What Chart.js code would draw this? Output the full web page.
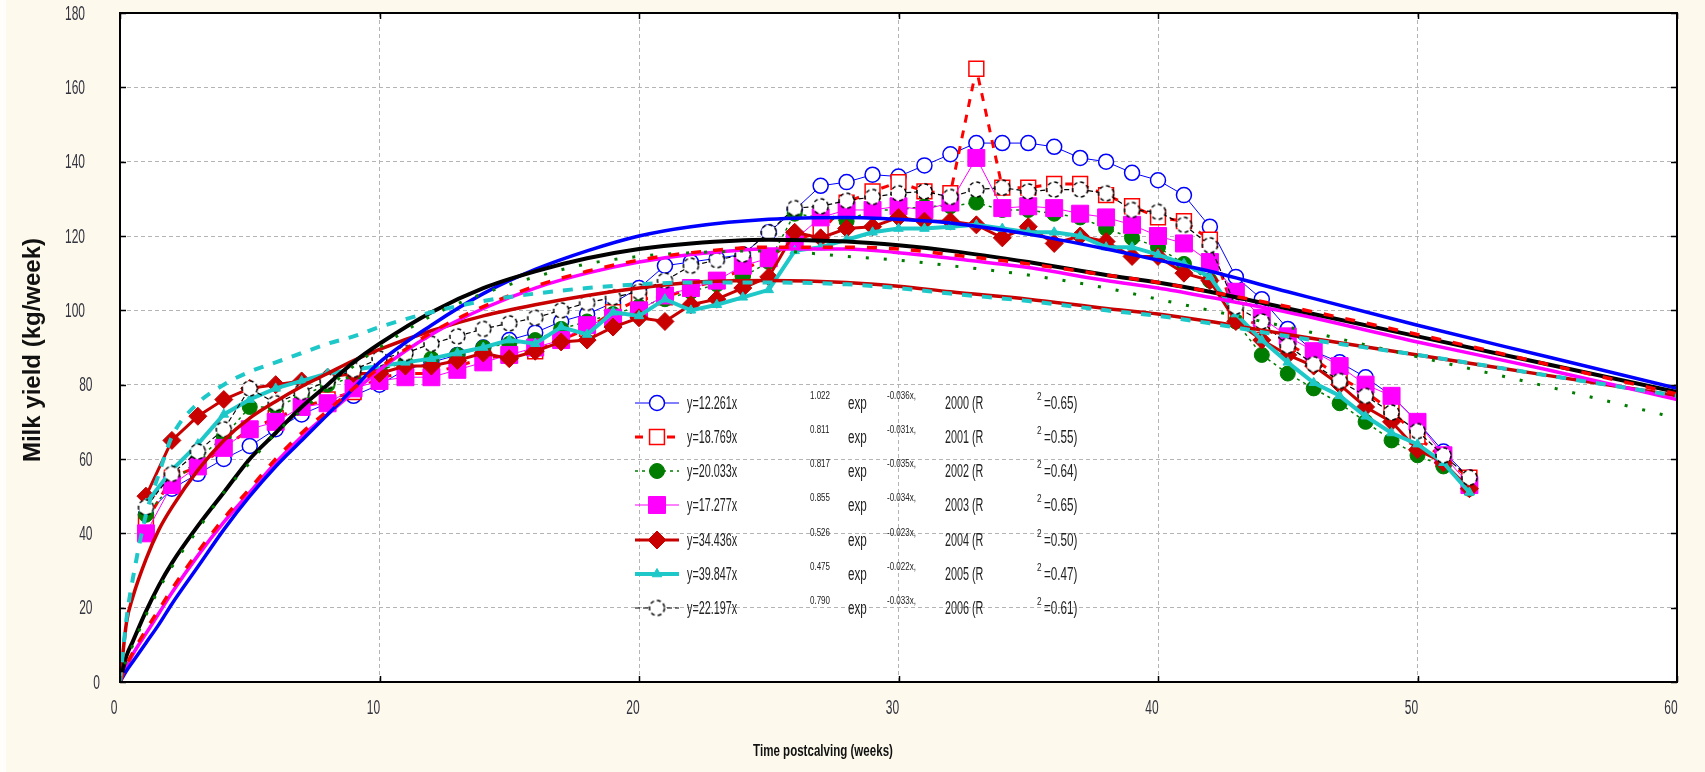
<!DOCTYPE html>
<html>
<head>
<meta charset="utf-8">
<title>Milk yield lactation curves 2000-2006</title>
<script src="https://cdn.jsdelivr.net/npm/chart.js@4.4.1/dist/chart.umd.min.js"></script>
<style>
  html, body { margin: 0; padding: 0; background: #fdf9ec; }
  canvas { display: block; }
</style>
</head>
<body>
<canvas id="milk" width="1705" height="772"></canvas>
<script>
// axis ticks
const xTicks = [0, 10, 20, 30, 40, 50, 60];
const yTicks = [0, 20, 40, 60, 80, 100, 120, 140, 160, 180];

// observed weekly means (weeks 1..52)
const weeks = [1, 2, 3, 4, 5, 6, 7, 8, 9, 10, 11, 12, 13, 14, 15, 16, 17, 18, 19, 20,
  21, 22, 23, 24, 25, 26, 27, 28, 29, 30, 31, 32, 33, 34, 35, 36, 37, 38, 39, 40,
  41, 42, 43, 44, 45, 46, 47, 48, 49, 50, 51, 52];

const obs2000 = [45, 52, 56, 60, 63.5, 68, 72, 75, 77, 80, 84, 86, 88, 90, 92, 94, 97, 99, 102, 106,
  112, 113, 114, 115, 121, 127, 133.5, 134.5, 136.5, 136, 139, 142, 145, 145, 145, 144, 141, 140, 137, 135,
  131, 122.5, 109, 103, 95, 89, 86, 82, 77, 70, 62, 55];
const obs2001 = [43, 55, 58, 63, 68, 71, 74, 76, 78, 82, 83, 83, 85, 87, 88, 89, 92, 95, 99.5, 103,
  103.5, 106, 108, 111, 114, 119, 121, 129, 132, 134.5, 132, 131.5, 165, 133, 133, 134, 134, 131, 128, 125,
  124, 119, 98, 96, 91, 87, 82, 78, 73, 66, 60, 55];
const obs2002 = [45, 53, 60, 66, 74, 74, 77, 80, 82, 84, 86, 87, 88, 90, 91, 92, 95, 97, 99, 101,
  103, 105, 107, 109, 113, 126, 125, 124, 127, 127, 128, 128, 129, 127, 127, 126, 125, 122, 119.5, 117,
  112.5, 108, 97, 88, 83, 79, 75, 70, 65, 61, 58, 52];
const obs2003 = [40, 53, 58, 63, 68, 70, 74, 75, 79, 81, 82, 82, 84, 86, 88, 90, 92, 96, 98, 100,
  104, 106, 108, 112, 114, 119, 125, 127, 127, 128, 127, 129, 141, 127.5, 128, 127.5, 126, 125, 123, 120,
  118, 113, 105, 98, 93, 89, 85, 80, 77, 70, 61, 53];
const obs2004 = [50, 65, 71.5, 76, 79, 80, 81, 82, 83, 83, 85, 85, 86.5, 88.5, 87, 89, 91.5, 92, 95.5, 98,
  97, 101.5, 103, 106, 109, 121, 119.5, 122, 122.5, 125, 124, 124, 123, 119.5, 122.5, 118, 120, 118.5, 114.5, 114.5,
  110, 108, 97, 92, 88, 85, 80, 74, 70, 62.5, 59, 52];
const obs2005 = [48, 57, 64, 72, 76, 79, 81, 83, 84, 85, 86, 87, 88.5, 90, 92, 91, 95.5, 93.5, 99.5, 98.5,
  103, 100, 101.5, 103.5, 105.5, 116, 117, 119, 121, 122, 122, 122.5, 123, 122, 121, 121, 120, 117, 117, 115,
  112.5, 109, 99, 92, 86, 80.5, 77, 71.5, 67, 64, 59, 51];
const obs2006 = [47, 56, 62, 68, 79, 75, 78, 81, 84, 87, 88.5, 91, 93, 95, 96.5, 98, 100, 102, 103.5, 105,
  108, 112, 113.5, 115, 121, 127.5, 128, 129.5, 130.5, 131.5, 132, 130.5, 132.5, 133, 132, 132.5, 132.5, 131.5, 127, 126.5,
  123, 117.5, 101, 97, 90.5, 85.5, 81, 77, 72.5, 67.5, 61, 55];

// fitted curves
const fitWeeks = [0, 0.25, 0.5, 1, 1.5, 2, 3, 4, 5, 6, 7, 8, 9, 10, 12, 14, 16, 18, 20, 22,
  25, 28, 30, 32, 35, 38, 40, 42, 45, 50, 55, 60];
const fit2000 = [0, 3, 5.5, 10.5, 15.5, 21, 31, 41, 50, 58, 65, 72, 79, 86, 96, 104.5, 111, 116, 120, 122.5,
  124.5, 125, 124.5, 123.5, 120.5, 116.5, 113.5, 110.5, 105, 96, 87.5, 79];
const fit2001 = [0, 4.5, 8, 14, 19.5, 25, 35, 44, 52, 60, 67, 73, 79, 84.5, 94, 101, 106.5, 110.5, 113.5, 115.5,
  117, 117, 116.5, 115, 112.5, 109.5, 107.5, 105, 101, 93.5, 85.5, 77.5];
const fit2002 = [0, 6, 10, 18, 25, 31, 41, 51, 59, 67, 73, 79, 85, 90, 98.5, 104.5, 109, 112.5, 114.5, 115.5,
  116, 114.5, 113.5, 112, 109.5, 106, 103, 100, 95.5, 87.5, 79.5, 71];
const fit2003 = [0, 4, 7.5, 13, 18.5, 24, 34, 43, 51, 59, 66, 72, 78, 84, 93.5, 100.5, 106, 110, 113, 115,
  116.5, 116.5, 115.5, 114, 111.5, 108, 106, 103.5, 99.5, 91.5, 84, 76];
const fit2004 = [0, 16, 23, 33, 41, 47, 57, 65, 71, 75.5, 79.5, 83, 86.5, 89.5, 94.5, 98.5, 101.5, 104, 106, 107.5,
  108, 107.5, 106.5, 105, 103, 100.5, 99, 97, 93.5, 88, 82.5, 77];
const fit2005 = [0, 17, 28, 45, 56, 66, 75, 80, 83.5, 86, 88.5, 91, 93, 95.5, 99.5, 102.5, 104.5, 106, 107, 107.5,
  107.5, 107, 106, 104.5, 102.5, 100, 98.5, 96.5, 93, 88, 82.5, 77];
const fit2006 = [0, 7, 11, 19, 26, 32, 42, 51, 60, 67, 74, 80, 86, 91, 99.5, 106, 110.5, 114, 116.5, 118,
  119, 118.5, 117.5, 116, 113, 109.5, 107.5, 105, 100.5, 93, 85.5, 78];

// legend texts
const years = ['2000', '2001', '2002', '2003', '2004', '2005', '2006'];
const eqA = ['y=12.261x', 'y=18.769x', 'y=20.033x', 'y=17.277x', 'y=34.436x', 'y=39.847x', 'y=22.197x'];
const eqB = ['1.022', '0.811', '0.817', '0.855', '0.526', '0.475', '0.790'];
const eqC = ['-0.036x,', '-0.031x,', '-0.035x,', '-0.034x,', '-0.023x,', '-0.022x,', '-0.033x,'];
const rSq = ['=0.65)', '=0.55)', '=0.64)', '=0.65)', '=0.50)', '=0.47)', '=0.61)'];

const BG = '#fdf9ec';
const FONT = "'Liberation Sans', Arial, sans-serif";

function pts(xs, ys) {
  return ys.map((v, i) => ({ x: xs[i], y: v }));
}

// open circle with a dashed outline (2006 marker)
function ringMarker() {
  const c = document.createElement('canvas');
  c.width = 19; c.height = 19;
  const g = c.getContext('2d');
  g.beginPath();
  g.arc(9.5, 9.5, 7.5, 0, Math.PI * 2);
  g.fillStyle = '#fff';
  g.fill();
  g.setLineDash([4, 3]);
  g.lineWidth = 1.5;
  g.strokeStyle = '#000';
  g.stroke();
  return c;
}
const ring = ringMarker();

function obsLine(label, data, color, width, dash, style, radius, fillCol, pbw) {
  return {
    label, data: pts(weeks, data), borderColor: color, borderWidth: width, borderDash: dash,
    pointStyle: style, pointRadius: radius, pointBackgroundColor: fillCol,
    pointBorderColor: color, pointBorderWidth: pbw, tension: 0, fill: false
  };
}
function fitLine(label, data, color, width, dash) {
  return {
    label, data: pts(fitWeeks, data), borderColor: color, borderWidth: width, borderDash: dash,
    pointRadius: 0, cubicInterpolationMode: 'monotone', fill: false
  };
}

// first index is drawn on top
const obsSets = [
  obsLine('2006', obs2006, '#000000', 1.2, [5, 3], ring, 9, '#fff', 0),
  obsLine('2005', obs2005, '#1ec8c8', 4, [], 'triangle', 5.5, '#1ec8c8', 1),
  obsLine('2004', obs2004, '#c80000', 3, [], 'rectRot', 9, '#c80000', 1),
  obsLine('2003', obs2003, '#ff00ff', 1, [], 'rect', 12, '#ff00ff', 1),
  obsLine('2002', obs2002, '#007d00', 1.5, [3, 4], 'circle', 7.5, '#007d00', 1),
  obsLine('2001', obs2001, '#ff0000', 3, [8, 8], 'rect', 10.5, '#fff', 1.5),
  obsLine('2000', obs2000, '#0000ff', 1, [], 'circle', 7.5, '#fff', 1.5)
];
const fitSets = [
  fitLine('fit 2005', fit2005, '#1ec8c8', 4, [10, 10]),
  fitLine('fit 2001', fit2001, '#ff0000', 3.5, [10, 12]),
  fitLine('fit 2002', fit2002, '#007d00', 3, [3, 15]),
  fitLine('fit 2006', fit2006, '#000000', 4, []),
  fitLine('fit 2000', fit2000, '#0000ff', 3.5, []),
  fitLine('fit 2003', fit2003, '#ff00ff', 3.5, []),
  fitLine('fit 2004', fit2004, '#c80000', 3.5, [])
];

function squeezeText(ctx, txt, x, y, font, sx, align, color) {
  ctx.save();
  ctx.font = font;
  ctx.fillStyle = color;
  ctx.textBaseline = 'middle';
  ctx.textAlign = align;
  ctx.translate(x, y);
  ctx.scale(sx, 1);
  ctx.fillText(txt, 0, 0);
  ctx.restore();
}

const frame = {
  id: 'frame',
  beforeDraw(chart) {
    const { ctx, chartArea: a } = chart;
    ctx.save();
    ctx.fillStyle = BG;
    ctx.fillRect(0, 0, chart.width, chart.height);
    ctx.fillStyle = '#fffefa';
    ctx.fillRect(0, 0, 6, chart.height);
    ctx.fillStyle = '#ffffff';
    ctx.fillRect(a.left, a.top, a.right - a.left, a.bottom - a.top);
    ctx.restore();
  },
  afterDraw(chart) {
    const { ctx, chartArea: a } = chart;
    const xs = chart.scales.x, ys = chart.scales.y;

    // plot frame and inward ticks
    ctx.save();
    ctx.strokeStyle = '#000';
    ctx.lineWidth = 2;
    ctx.strokeRect(a.left, a.top, a.right - a.left, a.bottom - a.top);
    ctx.lineWidth = 1.5;
    ctx.beginPath();
    yTicks.forEach(v => {
      const py = Math.round(ys.getPixelForValue(v)) + 0.5;
      ctx.moveTo(a.left, py); ctx.lineTo(a.left + 6, py);
      ctx.moveTo(a.right, py); ctx.lineTo(a.right - 6, py);
    });
    xTicks.forEach(v => {
      const px = Math.round(xs.getPixelForValue(v)) + 0.5;
      ctx.moveTo(px, a.bottom); ctx.lineTo(px, a.bottom - 6);
      ctx.moveTo(px, a.top); ctx.lineTo(px, a.top + 6);
    });
    ctx.stroke();
    ctx.restore();

    // tick labels
    const tickCol = '#33343f';
    yTicks.forEach(v => {
      const s = String(v);
      squeezeText(ctx, s, 107.5 - 7.5 * s.length, ys.getPixelForValue(v) + 1, '20px ' + FONT, 0.6, 'right', tickCol);
    });
    xTicks.forEach(v => {
      squeezeText(ctx, String(v), xs.getPixelForValue(v) - 6, 708, '20px ' + FONT, 0.6, 'center', tickCol);
    });

    // axis titles
    squeezeText(ctx, 'Time postcalving (weeks)', 823, 751, 'bold 17px ' + FONT, 0.68, 'center', '#111');
    ctx.save();
    ctx.translate(33, 350);
    ctx.rotate(-Math.PI / 2);
    ctx.font = 'bold 24px ' + FONT;
    ctx.fillStyle = '#111';
    ctx.textAlign = 'center';
    ctx.textBaseline = 'middle';
    ctx.fillText('Milk yield (kg/week)', 0, 0);
    ctx.restore();

    // legend block
    const rowY = [403, 437, 471, 505, 540, 574, 608];
    const txt = '#222';
    years.forEach((yr, i) => {
      const y = rowY[i];
      const ds = obsSets.find(d => d.label === yr);
      ctx.save();
      ctx.strokeStyle = ds.borderColor;
      ctx.lineWidth = ds.borderWidth;
      ctx.setLineDash(ds.borderDash || []);
      ctx.beginPath();
      ctx.moveTo(635, y); ctx.lineTo(679, y);
      ctx.stroke();
      ctx.setLineDash([]);
      ctx.fillStyle = ds.pointBackgroundColor;
      ctx.strokeStyle = ds.pointBorderColor;
      ctx.lineWidth = ds.pointBorderWidth;
      Chart.helpers.drawPoint(ctx, {
        pointStyle: ds.pointStyle, radius: ds.pointRadius, rotation: 0, borderWidth: ds.pointBorderWidth
      }, 657, y);
      ctx.restore();

      squeezeText(ctx, eqA[i], 687, y + 1, '18px ' + FONT, 0.6, 'left', txt);
      squeezeText(ctx, eqB[i], 810, y - 7, '10px ' + FONT, 0.8, 'left', txt);
      squeezeText(ctx, 'exp', 848, y + 1, '18px ' + FONT, 0.65, 'left', txt);
      squeezeText(ctx, eqC[i], 887, y - 7, '10px ' + FONT, 0.8, 'left', txt);
      squeezeText(ctx, yr + ' (R', 945, y + 1, '18px ' + FONT, 0.6, 'left', txt);
      squeezeText(ctx, '2', 1037, y - 6, '11px ' + FONT, 0.75, 'left', txt);
      squeezeText(ctx, rSq[i], 1044, y + 1, '18px ' + FONT, 0.65, 'left', txt);
    });
  }
};

const gridOpts = { color: '#b4b4b4', lineWidth: 1, drawTicks: false };

new Chart(document.getElementById('milk'), {
  type: 'line',
  data: { datasets: [...fitSets, ...obsSets] },
  options: {
    responsive: false,
    animation: false,
    events: [],
    layout: { autoPadding: false, padding: { left: 120, right: 28, top: 13, bottom: 90 } },
    plugins: { legend: { display: false }, tooltip: { enabled: false } },
    scales: {
      x: {
        type: 'linear', min: 0, max: 60,
        afterBuildTicks: s => { s.ticks = xTicks.map(v => ({ value: v })); },
        afterFit: s => { s.height = 0; },
        ticks: { display: false },
        grid: gridOpts,
        border: { display: false, dash: [4, 3] }
      },
      y: {
        type: 'linear', min: 0, max: 180,
        afterBuildTicks: s => { s.ticks = yTicks.map(v => ({ value: v })); },
        afterFit: s => { s.width = 0; },
        ticks: { display: false },
        grid: gridOpts,
        border: { display: false, dash: [4, 3] }
      }
    }
  },
  plugins: [frame]
});
</script>
</body>
</html>
